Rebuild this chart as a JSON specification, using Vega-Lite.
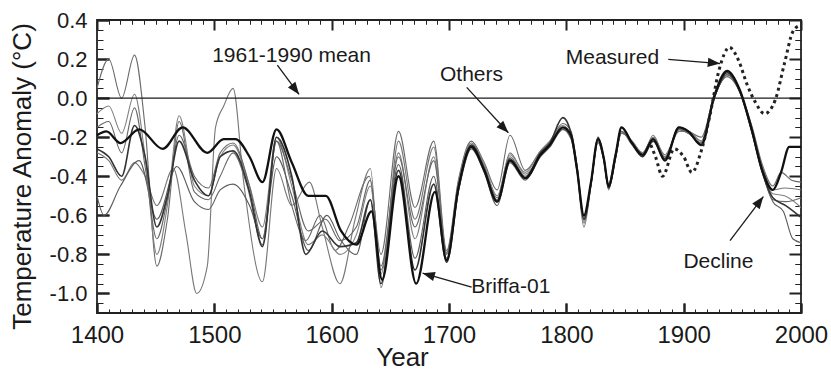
{
  "$schema": "https://vega.github.io/schema/vega-lite/v6.json",
  "width": 704,
  "height": 293,
  "autosize": "none",
  "padding": {"left": 97, "top": 20, "right": 30, "bottom": 57},
  "background": "white",
  "config": {
    "view": {"stroke": "#222", "strokeWidth": 1.8},
    "font": "Liberation Sans",
    "axis": {"domain": false, "tickColor": "#222", "labelColor": "#1a1a1a", "titleColor": "#1a1a1a", "titleFontWeight": "normal", "labelFont": "Liberation Sans", "titleFont": "Liberation Sans"}
  },
  "layer": [
    {
      "data": {"values": [
        {"s":"G1","yr":1400,"v":0.05},{"s":"G1","yr":1410,"v":0.2},{"s":"G1","yr":1421,"v":0.0},{"s":"G1","yr":1432,"v":0.22},{"s":"G1","yr":1441,"v":-0.15},{"s":"G1","yr":1451,"v":-0.86},{"s":"G1","yr":1460,"v":-0.62},{"s":"G1","yr":1470,"v":-0.12},{"s":"G1","yr":1483,"v":-0.48},{"s":"G1","yr":1495,"v":-0.52},{"s":"G1","yr":1505,"v":-0.4},{"s":"G1","yr":1516,"v":-0.28},{"s":"G1","yr":1528,"v":-0.45},{"s":"G1","yr":1541,"v":-0.75},{"s":"G1","yr":1553,"v":-0.22},{"s":"G1","yr":1566,"v":-0.55},{"s":"G1","yr":1578,"v":-0.73},{"s":"G1","yr":1590,"v":-0.6},{"s":"G1","yr":1603,"v":-0.78},{"s":"G1","yr":1615,"v":-0.65},{"s":"G1","yr":1632,"v":-0.4},{"s":"G1","yr":1642,"v":-0.8},{"s":"G1","yr":1657,"v":-0.17},{"s":"G1","yr":1671,"v":-0.56},{"s":"G1","yr":1687,"v":-0.22},{"s":"G1","yr":1698,"v":-0.78},
        {"s":"G1","yr":1708,"v":-0.42},{"s":"G1","yr":1719,"v":-0.22},{"s":"G1","yr":1730,"v":-0.33},{"s":"G1","yr":1741,"v":-0.47},{"s":"G1","yr":1752,"v":-0.19},{"s":"G1","yr":1765,"v":-0.37},{"s":"G1","yr":1778,"v":-0.27},{"s":"G1","yr":1786,"v":-0.22},{"s":"G1","yr":1797,"v":-0.13},{"s":"G1","yr":1804,"v":-0.17},{"s":"G1","yr":1809,"v":-0.34},{"s":"G1","yr":1815,"v":-0.64},{"s":"G1","yr":1821,"v":-0.44},{"s":"G1","yr":1827,"v":-0.22},{"s":"G1","yr":1832,"v":-0.32},{"s":"G1","yr":1836,"v":-0.44},{"s":"G1","yr":1842,"v":-0.28},{"s":"G1","yr":1847,"v":-0.18},{"s":"G1","yr":1856,"v":-0.22},{"s":"G1","yr":1865,"v":-0.28},{"s":"G1","yr":1874,"v":-0.2},{"s":"G1","yr":1884,"v":-0.29},{"s":"G1","yr":1896,"v":-0.16},{"s":"G1","yr":1904,"v":-0.17},{"s":"G1","yr":1915,"v":-0.2},{"s":"G1","yr":1926,"v":0.01},{"s":"G1","yr":1937,"v":0.11},{"s":"G1","yr":1948,"v":0.03},{"s":"G1","yr":1958,"v":-0.14},{"s":"G1","yr":1967,"v":-0.34},{"s":"G1","yr":1976,"v":-0.45},{"s":"G1","yr":1983,"v":-0.38},{"s":"G1","yr":1992,"v":-0.42},{"s":"G1","yr":2000,"v":-0.43},
        {"s":"G2","yr":1400,"v":-0.28},{"s":"G2","yr":1410,"v":-0.32},{"s":"G2","yr":1421,"v":-0.42},{"s":"G2","yr":1432,"v":-0.33},{"s":"G2","yr":1441,"v":-0.4},{"s":"G2","yr":1451,"v":-0.55},{"s":"G2","yr":1465,"v":-0.36},{"s":"G2","yr":1476,"v":-0.7},{"s":"G2","yr":1485,"v":-1.0},{"s":"G2","yr":1494,"v":-0.86},{"s":"G2","yr":1501,"v":-0.15},{"s":"G2","yr":1508,"v":-0.04},{"s":"G2","yr":1516,"v":0.05},{"s":"G2","yr":1525,"v":-0.43},{"s":"G2","yr":1541,"v":-0.94},{"s":"G2","yr":1553,"v":-0.36},{"s":"G2","yr":1566,"v":-0.55},{"s":"G2","yr":1581,"v":-0.43},{"s":"G2","yr":1592,"v":-0.66},{"s":"G2","yr":1607,"v":-0.95},{"s":"G2","yr":1620,"v":-0.62},{"s":"G2","yr":1633,"v":-0.36},{"s":"G2","yr":1642,"v":-0.97},{"s":"G2","yr":1657,"v":-0.22},{"s":"G2","yr":1671,"v":-0.62},{"s":"G2","yr":1687,"v":-0.25},{"s":"G2","yr":1698,"v":-0.8},
        {"s":"G2","yr":1708,"v":-0.44},{"s":"G2","yr":1719,"v":-0.24},{"s":"G2","yr":1730,"v":-0.35},{"s":"G2","yr":1741,"v":-0.51},{"s":"G2","yr":1752,"v":-0.28},{"s":"G2","yr":1765,"v":-0.39},{"s":"G2","yr":1778,"v":-0.29},{"s":"G2","yr":1786,"v":-0.24},{"s":"G2","yr":1797,"v":-0.16},{"s":"G2","yr":1804,"v":-0.2},{"s":"G2","yr":1809,"v":-0.37},{"s":"G2","yr":1815,"v":-0.66},{"s":"G2","yr":1821,"v":-0.45},{"s":"G2","yr":1827,"v":-0.23},{"s":"G2","yr":1832,"v":-0.32},{"s":"G2","yr":1836,"v":-0.47},{"s":"G2","yr":1842,"v":-0.3},{"s":"G2","yr":1847,"v":-0.18},{"s":"G2","yr":1856,"v":-0.22},{"s":"G2","yr":1865,"v":-0.29},{"s":"G2","yr":1874,"v":-0.19},{"s":"G2","yr":1884,"v":-0.3},{"s":"G2","yr":1896,"v":-0.17},{"s":"G2","yr":1904,"v":-0.17},{"s":"G2","yr":1915,"v":-0.22},{"s":"G2","yr":1926,"v":0.0},{"s":"G2","yr":1937,"v":0.12},{"s":"G2","yr":1948,"v":0.04},{"s":"G2","yr":1958,"v":-0.15},{"s":"G2","yr":1967,"v":-0.35},{"s":"G2","yr":1976,"v":-0.47},{"s":"G2","yr":1986,"v":-0.46},{"s":"G2","yr":2000,"v":-0.47},
        {"s":"G3","yr":1400,"v":-0.5},{"s":"G3","yr":1406,"v":-0.6},{"s":"G3","yr":1420,"v":-0.45},{"s":"G3","yr":1436,"v":-0.32},{"s":"G3","yr":1451,"v":-0.62},{"s":"G3","yr":1468,"v":-0.35},{"s":"G3","yr":1483,"v":-0.53},{"s":"G3","yr":1495,"v":-0.57},{"s":"G3","yr":1505,"v":-0.47},{"s":"G3","yr":1516,"v":-0.44},{"s":"G3","yr":1530,"v":-0.55},{"s":"G3","yr":1541,"v":-0.72},{"s":"G3","yr":1553,"v":-0.3},{"s":"G3","yr":1566,"v":-0.5},{"s":"G3","yr":1580,"v":-0.78},{"s":"G3","yr":1596,"v":-0.6},{"s":"G3","yr":1607,"v":-0.72},{"s":"G3","yr":1621,"v":-0.8},{"s":"G3","yr":1633,"v":-0.52},{"s":"G3","yr":1642,"v":-0.88},{"s":"G3","yr":1657,"v":-0.34},{"s":"G3","yr":1671,"v":-0.82},{"s":"G3","yr":1687,"v":-0.4},{"s":"G3","yr":1698,"v":-0.82},
        {"s":"G3","yr":1708,"v":-0.48},{"s":"G3","yr":1719,"v":-0.26},{"s":"G3","yr":1730,"v":-0.38},{"s":"G3","yr":1741,"v":-0.55},{"s":"G3","yr":1752,"v":-0.33},{"s":"G3","yr":1765,"v":-0.42},{"s":"G3","yr":1778,"v":-0.3},{"s":"G3","yr":1786,"v":-0.25},{"s":"G3","yr":1797,"v":-0.16},{"s":"G3","yr":1804,"v":-0.21},{"s":"G3","yr":1809,"v":-0.37},{"s":"G3","yr":1815,"v":-0.61},{"s":"G3","yr":1821,"v":-0.44},{"s":"G3","yr":1827,"v":-0.22},{"s":"G3","yr":1832,"v":-0.32},{"s":"G3","yr":1836,"v":-0.46},{"s":"G3","yr":1842,"v":-0.31},{"s":"G3","yr":1847,"v":-0.17},{"s":"G3","yr":1856,"v":-0.24},{"s":"G3","yr":1865,"v":-0.3},{"s":"G3","yr":1874,"v":-0.21},{"s":"G3","yr":1884,"v":-0.31},{"s":"G3","yr":1896,"v":-0.16},{"s":"G3","yr":1904,"v":-0.18},{"s":"G3","yr":1915,"v":-0.23},{"s":"G3","yr":1926,"v":0.0},{"s":"G3","yr":1937,"v":0.12},{"s":"G3","yr":1948,"v":0.03},{"s":"G3","yr":1958,"v":-0.17},{"s":"G3","yr":1967,"v":-0.38},{"s":"G3","yr":1976,"v":-0.53},{"s":"G3","yr":1985,"v":-0.58},{"s":"G3","yr":1993,"v":-0.72},{"s":"G3","yr":2000,"v":-0.74},
        {"s":"G4","yr":1400,"v":-0.08},{"s":"G4","yr":1410,"v":-0.04},{"s":"G4","yr":1421,"v":-0.18},{"s":"G4","yr":1432,"v":0.02},{"s":"G4","yr":1441,"v":-0.3},{"s":"G4","yr":1451,"v":-0.8},{"s":"G4","yr":1460,"v":-0.55},{"s":"G4","yr":1470,"v":-0.09},{"s":"G4","yr":1483,"v":-0.45},{"s":"G4","yr":1495,"v":-0.5},{"s":"G4","yr":1505,"v":-0.3},{"s":"G4","yr":1516,"v":-0.24},{"s":"G4","yr":1530,"v":-0.45},{"s":"G4","yr":1541,"v":-0.66},{"s":"G4","yr":1553,"v":-0.2},{"s":"G4","yr":1566,"v":-0.45},{"s":"G4","yr":1580,"v":-0.75},{"s":"G4","yr":1592,"v":-0.7},{"s":"G4","yr":1607,"v":-0.8},{"s":"G4","yr":1621,"v":-0.7},{"s":"G4","yr":1633,"v":-0.45},{"s":"G4","yr":1642,"v":-0.9},{"s":"G4","yr":1657,"v":-0.28},{"s":"G4","yr":1671,"v":-0.72},{"s":"G4","yr":1687,"v":-0.3},{"s":"G4","yr":1698,"v":-0.8},
        {"s":"G4","yr":1708,"v":-0.43},{"s":"G4","yr":1719,"v":-0.23},{"s":"G4","yr":1730,"v":-0.34},{"s":"G4","yr":1741,"v":-0.5},{"s":"G4","yr":1752,"v":-0.29},{"s":"G4","yr":1765,"v":-0.38},{"s":"G4","yr":1778,"v":-0.27},{"s":"G4","yr":1786,"v":-0.22},{"s":"G4","yr":1797,"v":-0.14},{"s":"G4","yr":1804,"v":-0.19},{"s":"G4","yr":1809,"v":-0.35},{"s":"G4","yr":1815,"v":-0.63},{"s":"G4","yr":1821,"v":-0.43},{"s":"G4","yr":1827,"v":-0.22},{"s":"G4","yr":1832,"v":-0.31},{"s":"G4","yr":1836,"v":-0.44},{"s":"G4","yr":1842,"v":-0.29},{"s":"G4","yr":1847,"v":-0.17},{"s":"G4","yr":1856,"v":-0.23},{"s":"G4","yr":1865,"v":-0.28},{"s":"G4","yr":1874,"v":-0.2},{"s":"G4","yr":1884,"v":-0.3},{"s":"G4","yr":1896,"v":-0.16},{"s":"G4","yr":1904,"v":-0.17},{"s":"G4","yr":1915,"v":-0.22},{"s":"G4","yr":1926,"v":0.01},{"s":"G4","yr":1937,"v":0.13},{"s":"G4","yr":1948,"v":0.04},{"s":"G4","yr":1958,"v":-0.16},{"s":"G4","yr":1967,"v":-0.36},{"s":"G4","yr":1976,"v":-0.49},{"s":"G4","yr":1986,"v":-0.5},{"s":"G4","yr":2000,"v":-0.56},
        {"s":"G5","yr":1400,"v":-0.15},{"s":"G5","yr":1410,"v":-0.12},{"s":"G5","yr":1421,"v":-0.28},{"s":"G5","yr":1432,"v":-0.05},{"s":"G5","yr":1441,"v":-0.35},{"s":"G5","yr":1451,"v":-0.72},{"s":"G5","yr":1460,"v":-0.52},{"s":"G5","yr":1470,"v":-0.19},{"s":"G5","yr":1483,"v":-0.4},{"s":"G5","yr":1495,"v":-0.46},{"s":"G5","yr":1505,"v":-0.28},{"s":"G5","yr":1516,"v":-0.23},{"s":"G5","yr":1530,"v":-0.45},{"s":"G5","yr":1541,"v":-0.72},{"s":"G5","yr":1553,"v":-0.22},{"s":"G5","yr":1566,"v":-0.42},{"s":"G5","yr":1580,"v":-0.68},{"s":"G5","yr":1595,"v":-0.62},{"s":"G5","yr":1607,"v":-0.73},{"s":"G5","yr":1621,"v":-0.66},{"s":"G5","yr":1633,"v":-0.42},{"s":"G5","yr":1642,"v":-0.86},{"s":"G5","yr":1657,"v":-0.3},{"s":"G5","yr":1671,"v":-0.66},{"s":"G5","yr":1687,"v":-0.32},{"s":"G5","yr":1698,"v":-0.79},
        {"s":"G5","yr":1708,"v":-0.45},{"s":"G5","yr":1719,"v":-0.25},{"s":"G5","yr":1730,"v":-0.36},{"s":"G5","yr":1741,"v":-0.52},{"s":"G5","yr":1752,"v":-0.3},{"s":"G5","yr":1765,"v":-0.4},{"s":"G5","yr":1778,"v":-0.28},{"s":"G5","yr":1786,"v":-0.23},{"s":"G5","yr":1797,"v":-0.15},{"s":"G5","yr":1804,"v":-0.2},{"s":"G5","yr":1809,"v":-0.36},{"s":"G5","yr":1815,"v":-0.62},{"s":"G5","yr":1821,"v":-0.43},{"s":"G5","yr":1827,"v":-0.21},{"s":"G5","yr":1832,"v":-0.31},{"s":"G5","yr":1836,"v":-0.45},{"s":"G5","yr":1842,"v":-0.3},{"s":"G5","yr":1847,"v":-0.17},{"s":"G5","yr":1856,"v":-0.23},{"s":"G5","yr":1865,"v":-0.29},{"s":"G5","yr":1874,"v":-0.21},{"s":"G5","yr":1884,"v":-0.31},{"s":"G5","yr":1896,"v":-0.16},{"s":"G5","yr":1904,"v":-0.18},{"s":"G5","yr":1915,"v":-0.23},{"s":"G5","yr":1926,"v":0.0},{"s":"G5","yr":1937,"v":0.12},{"s":"G5","yr":1948,"v":0.03},{"s":"G5","yr":1958,"v":-0.16},{"s":"G5","yr":1967,"v":-0.37},{"s":"G5","yr":1976,"v":-0.52},{"s":"G5","yr":1987,"v":-0.53},{"s":"G5","yr":2000,"v":-0.51}
      ]},
      "mark": {"type": "line", "interpolate": "monotone", "strokeWidth": 1.1},
      "encoding": {
        "x": {"field": "yr", "type": "quantitative", "scale": {"domain": [1400, 2000], "nice": false, "zero": false},
          "axis": {"orient": "bottom", "values": [1400,1500,1600,1700,1800,1900,2000], "format": "d", "labelFontSize": 24, "labelFlush": false, "tickSize": -10, "tickWidth": 2, "labelPadding": 20, "grid": true, "gridColor": "#222222", "gridOpacity": 1, "gridWidth": 2, "gridDash": [10, 273, 10, 2000], "title": "Year", "titleFontSize": 26, "titleX": 305, "titleY": 52, "titleBaseline": "alphabetic", "titleAlign": "center"}},
        "y": {"field": "v", "type": "quantitative", "scale": {"domain": [-1.1, 0.4], "nice": false, "zero": false},
          "axis": {"orient": "left", "values": [-1.0,-0.8,-0.6,-0.4,-0.2,0.0,0.2,0.4], "format": ".1f", "labelExpr": "replace(datum.label, '\u2212', '-')", "labelFontSize": 22, "tickSize": -12, "tickWidth": 2, "labelPadding": 22, "grid": true, "gridColor": "#222222", "gridOpacity": 1, "gridWidth": 2, "gridDash": [12, 680, 12, 2000], "title": "Temperature Anomaly (°C)", "titleFontSize": 26, "titleAngle": -90, "titleX": -67, "titleY": 156, "titleBaseline": "alphabetic", "titleAlign": "center"}},
        "detail": {"field": "s"},
        "color": {"field": "s", "type": "nominal", "scale": {"domain": ["G1","G2","G3","G4","G5"], "range": ["#6a6a6a","#777777","#5a5a5a","#808080","#666666"]}, "legend": null}
      }
    },
    {
      "data": {"values": [
        {"yr":1400,"v":-0.26},{"yr":1410,"v":-0.3},{"yr":1421,"v":-0.4},{"yr":1432,"v":-0.14},{"yr":1441,"v":-0.3},{"yr":1451,"v":-0.66},{"yr":1460,"v":-0.5},{"yr":1470,"v":-0.22},{"yr":1483,"v":-0.42},{"yr":1495,"v":-0.5},{"yr":1505,"v":-0.3},{"yr":1516,"v":-0.27},{"yr":1530,"v":-0.48},{"yr":1541,"v":-0.76},{"yr":1553,"v":-0.2},{"yr":1566,"v":-0.4},{"yr":1578,"v":-0.8},{"yr":1592,"v":-0.68},{"yr":1607,"v":-0.76},{"yr":1621,"v":-0.74},{"yr":1633,"v":-0.52},{"yr":1642,"v":-0.95},{"yr":1657,"v":-0.37},{"yr":1671,"v":-0.88},{"yr":1687,"v":-0.44},{"yr":1698,"v":-0.84},
        {"yr":1708,"v":-0.47},{"yr":1719,"v":-0.24},{"yr":1730,"v":-0.36},{"yr":1741,"v":-0.53},{"yr":1752,"v":-0.31},{"yr":1765,"v":-0.41},{"yr":1778,"v":-0.28},{"yr":1786,"v":-0.23},{"yr":1797,"v":-0.1},{"yr":1804,"v":-0.18},{"yr":1809,"v":-0.35},{"yr":1815,"v":-0.62},{"yr":1821,"v":-0.44},{"yr":1827,"v":-0.2},{"yr":1832,"v":-0.31},{"yr":1836,"v":-0.46},{"yr":1842,"v":-0.3},{"yr":1847,"v":-0.15},{"yr":1856,"v":-0.23},{"yr":1865,"v":-0.3},{"yr":1874,"v":-0.22},{"yr":1884,"v":-0.31},{"yr":1896,"v":-0.15},{"yr":1904,"v":-0.17},{"yr":1915,"v":-0.24},{"yr":1926,"v":0.0},{"yr":1937,"v":0.13},{"yr":1948,"v":0.03},{"yr":1958,"v":-0.17},{"yr":1967,"v":-0.38},{"yr":1976,"v":-0.51},{"yr":1987,"v":-0.55},{"yr":2000,"v":-0.61}
      ]},
      "mark": {"type": "line", "interpolate": "monotone", "strokeWidth": 1.6, "color": "#333333"},
      "encoding": {
        "x": {"field": "yr", "type": "quantitative", "scale": {"domain": [1400, 2000], "nice": false, "zero": false},
          "axis": {"orient": "top", "values": [1410,1420,1430,1440,1450,1460,1470,1480,1490,1510,1520,1530,1540,1550,1560,1570,1580,1590,1610,1620,1630,1640,1650,1660,1670,1680,1690,1710,1720,1730,1740,1750,1760,1770,1780,1790,1810,1820,1830,1840,1850,1860,1870,1880,1890,1910,1920,1930,1940,1950,1960,1970,1980,1990], "labels": false, "tickSize": -4, "tickWidth": 1, "tickColor": "#222222", "grid": true, "gridColor": "#222222", "gridOpacity": 1, "gridWidth": 1, "gridDash": [4, 285, 4, 2000], "title": null}},
        "y": {"field": "v", "type": "quantitative", "scale": {"domain": [-1.1, 0.4], "nice": false, "zero": false},
          "axis": {"orient": "right", "values": [-1.05,-0.95,-0.9,-0.85,-0.75,-0.7,-0.65,-0.55,-0.5,-0.45,-0.35,-0.3,-0.25,-0.15,-0.1,-0.05,0.05,0.1,0.15,0.25,0.3,0.35], "labels": false, "tickSize": -6, "tickWidth": 1, "tickColor": "#222222", "grid": true, "gridColor": "#222222", "gridOpacity": 1, "gridWidth": 1, "gridDash": [6, 692, 6, 2000], "title": null}}
      }
    },
    {
      "data": {"values": [
        {"yr":1400,"v":-0.19},{"yr":1408,"v":-0.17},{"yr":1420,"v":-0.23},{"yr":1436,"v":-0.16},{"yr":1456,"v":-0.26},{"yr":1473,"v":-0.15},{"yr":1494,"v":-0.28},{"yr":1508,"v":-0.21},{"yr":1518,"v":-0.21},{"yr":1530,"v":-0.3},{"yr":1541,"v":-0.43},{"yr":1553,"v":-0.16},{"yr":1566,"v":-0.33},{"yr":1580,"v":-0.5},{"yr":1595,"v":-0.5},{"yr":1608,"v":-0.68},{"yr":1621,"v":-0.75},{"yr":1634,"v":-0.58},{"yr":1643,"v":-0.93},{"yr":1657,"v":-0.4},{"yr":1672,"v":-0.95},{"yr":1688,"v":-0.48},{"yr":1698,"v":-0.83},
        {"yr":1708,"v":-0.46},{"yr":1719,"v":-0.25},{"yr":1730,"v":-0.37},{"yr":1741,"v":-0.53},{"yr":1752,"v":-0.32},{"yr":1765,"v":-0.41},{"yr":1778,"v":-0.29},{"yr":1786,"v":-0.24},{"yr":1797,"v":-0.15},{"yr":1804,"v":-0.19},{"yr":1809,"v":-0.36},{"yr":1815,"v":-0.6},{"yr":1821,"v":-0.43},{"yr":1827,"v":-0.21},{"yr":1832,"v":-0.31},{"yr":1836,"v":-0.45},{"yr":1842,"v":-0.29},{"yr":1847,"v":-0.15},{"yr":1856,"v":-0.23},{"yr":1865,"v":-0.29},{"yr":1874,"v":-0.21},{"yr":1884,"v":-0.32},{"yr":1896,"v":-0.15},{"yr":1904,"v":-0.17},{"yr":1915,"v":-0.24},{"yr":1926,"v":0.01},{"yr":1937,"v":0.14},{"yr":1948,"v":0.04},{"yr":1958,"v":-0.16},{"yr":1967,"v":-0.37},{"yr":1976,"v":-0.47},{"yr":1983,"v":-0.38},{"yr":1990,"v":-0.25},{"yr":2000,"v":-0.25}
      ]},
      "mark": {"type": "line", "interpolate": "monotone", "strokeWidth": 2.3, "color": "#111111"},
      "encoding": {
        "x": {"field": "yr", "type": "quantitative", "axis": null},
        "y": {"field": "v", "type": "quantitative", "axis": null}
      }
    },
    {
      "data": {"values": [
        {"yr":1872,"v":-0.24},{"yr":1876,"v":-0.3},{"yr":1882,"v":-0.4},{"yr":1892,"v":-0.26},{"yr":1900,"v":-0.3},{"yr":1907,"v":-0.38},{"yr":1915,"v":-0.27},{"yr":1922,"v":-0.1},{"yr":1930,"v":0.14},{"yr":1939,"v":0.26},{"yr":1947,"v":0.19},{"yr":1954,"v":0.07},{"yr":1961,"v":-0.02},{"yr":1969,"v":-0.08},{"yr":1978,"v":-0.01},{"yr":1986,"v":0.18},{"yr":1993,"v":0.34},{"yr":1998,"v":0.37}
      ]},
      "mark": {"type": "line", "interpolate": "monotone", "strokeWidth": 3, "strokeDash": [3, 3.5], "color": "#222222"},
      "encoding": {
        "x": {"field": "yr", "type": "quantitative", "axis": null},
        "y": {"field": "v", "type": "quantitative", "axis": null}
      }
    },
    {
      "data": {"values": [{"v": 0}]},
      "mark": {"type": "rule", "color": "#1a1a1a", "strokeWidth": 1.1},
      "encoding": {"y": {"field": "v", "type": "quantitative", "axis": null}}
    },
    {
      "data": {"values": [
        {"yr":1565.8,"v":0.185,"label":"1961-1990 mean"},
        {"yr":1719.2,"v":0.088,"label":"Others"},
        {"yr":1839.3,"v":0.174,"label":"Measured"},
        {"yr":1752.7,"v":-0.998,"label":"Briffa-01"},
        {"yr":1929.6,"v":-0.87,"label":"Decline"}
      ]},
      "mark": {"type": "text", "font": "Liberation Sans", "fontSize": 21, "color": "#1a1a1a", "align": "center", "baseline": "alphabetic"},
      "encoding": {
        "x": {"field": "yr", "type": "quantitative", "axis": null},
        "y": {"field": "v", "type": "quantitative", "axis": null},
        "text": {"field": "label"}
      }
    },
    {
      "data": {"values": [
        {"x1":1553.7,"y1":0.169,"x2":1572.2,"y2":0.019},
        {"x1":1715.1,"y1":0.055,"x2":1750.6,"y2":-0.177},
        {"x1":1886.9,"y1":0.198,"x2":1931,"y2":0.177},
        {"x1":1719.3,"y1":-0.967,"x2":1677.5,"y2":-0.896},
        {"x1":1939.5,"y1":-0.729,"x2":1967.9,"y2":-0.504}
      ]},
      "mark": {"type": "rule", "color": "#1a1a1a", "strokeWidth": 1.3},
      "encoding": {
        "x": {"field": "x1", "type": "quantitative", "axis": null},
        "y": {"field": "y1", "type": "quantitative", "axis": null},
        "x2": {"field": "x2"},
        "y2": {"field": "y2"}
      }
    },
    {
      "data": {"values": [{"x": 1572.2, "y": 0.019}]},
      "mark": {"type": "point", "shape": "M0,0L-0.38,1L0.38,1Z", "filled": true, "color": "#1a1a1a", "size": 600, "angle": 143, "opacity": 1},
      "encoding": {"x": {"field": "x", "type": "quantitative", "axis": null}, "y": {"field": "y", "type": "quantitative", "axis": null}}
    },
    {
      "data": {"values": [{"x": 1750.6, "y": -0.177}]},
      "mark": {"type": "point", "shape": "M0,0L-0.38,1L0.38,1Z", "filled": true, "color": "#1a1a1a", "size": 600, "angle": 136, "opacity": 1},
      "encoding": {"x": {"field": "x", "type": "quantitative", "axis": null}, "y": {"field": "y", "type": "quantitative", "axis": null}}
    },
    {
      "data": {"values": [{"x": 1931, "y": 0.177}]},
      "mark": {"type": "point", "shape": "M0,0L-0.38,1L0.38,1Z", "filled": true, "color": "#1a1a1a", "size": 600, "angle": 96, "opacity": 1},
      "encoding": {"x": {"field": "x", "type": "quantitative", "axis": null}, "y": {"field": "y", "type": "quantitative", "axis": null}}
    },
    {
      "data": {"values": [{"x": 1677.5, "y": -0.896}]},
      "mark": {"type": "point", "shape": "M0,0L-0.38,1L0.38,1Z", "filled": true, "color": "#1a1a1a", "size": 600, "angle": 286, "opacity": 1},
      "encoding": {"x": {"field": "x", "type": "quantitative", "axis": null}, "y": {"field": "y", "type": "quantitative", "axis": null}}
    },
    {
      "data": {"values": [{"x": 1967.9, "y": -0.504}]},
      "mark": {"type": "point", "shape": "M0,0L-0.38,1L0.38,1Z", "filled": true, "color": "#1a1a1a", "size": 600, "angle": 37, "opacity": 1},
      "encoding": {"x": {"field": "x", "type": "quantitative", "axis": null}, "y": {"field": "y", "type": "quantitative", "axis": null}}
    }
  ],
  "resolve": {"axis": {"x": "independent", "y": "independent"}}
}
